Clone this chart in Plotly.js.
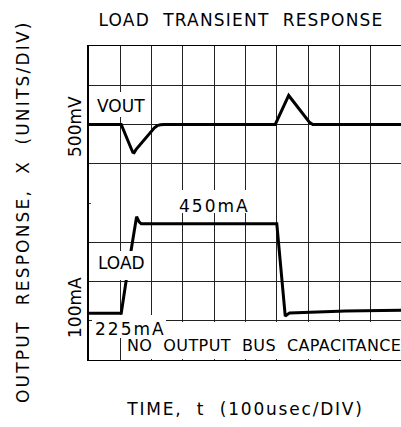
<!DOCTYPE html>
<html>
<head>
<meta charset="utf-8">
<script src="https://cdn.plot.ly/plotly-3.0.1.min.js"></script>
<style>
html,body{margin:0;padding:0;overflow:hidden;background:#fff;}
</style>
</head>
<body>
<div id="chart"></div>
<script>
// Time in microseconds (100 usec / division)
const voutTime = [0, 103, 133, 140, 144, 150, 209, 218, 228, 240, 595, 638, 704, 715, 1000];
// VOUT deviation in mV (500 mV / division)
const voutMv = [0, 0, -290, -355, -360, -320, -42, -15, -3, 0, 0, 370, 30, 0, 0];

const loadTime = [0, 103, 119, 152, 160, 167, 600, 627, 641, 700, 820, 1000];
// Load current in mA (100 mA / division)
const loadMa = [225, 225, 310, 471, 458, 453, 453, 218, 226, 228, 231, 233];

const W = 404, H = 427, L = 89, R = 2, T = 46, B = 67;
const PW = W - L - R, PH = H - T - B;
const px = x => (x - L) / PW;
const py = y => (H - B - y) / PH;

const FONT = "DejaVu Sans";
const sp = (txt, ls) => `<span style="letter-spacing:${ls}px">${txt}</span>`;

function box(x0, x1, y0, y1) {
  return {type: 'rect', xref: 'paper', yref: 'paper', layer: 'above',
    x0: px(x0), x1: px(x1), y0: py(y1), y1: py(y0),
    fillcolor: '#fff', line: {width: 0}};
}
function label(txt, x, y, size, angle) {
  return {xref: 'paper', yref: 'paper', x: px(x), y: py(y), text: txt,
    showarrow: false, xanchor: 'center', yanchor: 'middle',
    textangle: angle || 0, font: {family: FONT, size: size, color: '#000'}};
}

const traces = [
  {x: voutTime, y: voutMv, type: 'scatter', mode: 'lines', name: 'VOUT',
   line: {color: '#000', width: 3}, yaxis: 'y', hoverinfo: 'skip'},
  {x: loadTime, y: loadMa, type: 'scatter', mode: 'lines', name: 'LOAD',
   line: {color: '#000', width: 3}, yaxis: 'y2', hoverinfo: 'skip'}
];

const layout = {
  width: W, height: H,
  margin: {l: L, r: R, t: T, b: B, pad: 0},
  paper_bgcolor: '#fff', plot_bgcolor: '#fff',
  showlegend: false,
  title: {text: sp('LOAD  TRANSIENT  RESPONSE', 1.2), x: 241 / W, xref: 'container', xanchor: 'center',
          y: 1 - 20 / H, yanchor: 'middle', font: {family: FONT, size: 17, color: '#000'}},
  xaxis: {range: [0, 1000], dtick: 100, tick0: 0, showgrid: true, gridcolor: '#222', gridwidth: 1,
          zeroline: false, showticklabels: false, ticks: '', showline: true, mirror: true,
          linecolor: '#000', linewidth: 1, fixedrange: true,
          title: {text: sp('TIME,  t  (100usec/DIV)', 1.8), standoff: 43, font: {family: FONT, size: 17, color: '#000'}}},
  yaxis: {range: [-3000, 1000], tickvals: [-2500, -2000, -1500, -500, 0, 500], showgrid: true,
          gridcolor: '#222', gridwidth: 1, zeroline: false, showticklabels: false, ticks: '',
          showline: true, mirror: true, linecolor: '#000', linewidth: 2, fixedrange: true},
  yaxis2: {range: [106, 906], overlaying: 'y', side: 'left', showgrid: false, zeroline: false,
           showticklabels: false, tickvals: [506], ticks: 'inside', ticklen: 2, tickcolor: '#444',
           showline: false, fixedrange: true},
  shapes: [
    box(94, 148, 92, 117),
    box(177, 251, 190, 213),
    box(94, 148, 251, 280),
    box(92, 166, 315, 338),
    box(123, 404, 322, 359)
  ],
  annotations: [
    label('VOUT', 121, 105.5, 17),
    label(sp('450mA', 2), 214, 205.5, 17),
    label('LOAD', 121, 263, 17),
    label(sp('225mA', 2), 130, 329, 17),
    label(sp('NO  OUTPUT  BUS  CAPACITANCE', 0.4), 264, 345.5, 16),
    label(sp('OUTPUT  RESPONSE,  X  (UNITS/DIV)', 2.2), 23, 212, 17, -90),
    label('500mV', 75, 127, 17, -90),
    label('100mA', 75, 308, 17, -90)
  ]
};

Plotly.newPlot('chart', traces, layout, {displayModeBar: false, staticPlot: true});
</script>
</body>
</html>
